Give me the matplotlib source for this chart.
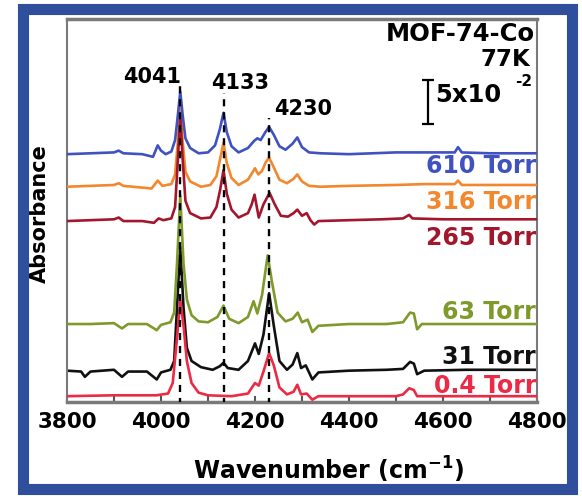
import matplotlib
matplotlib.use("Agg")
import matplotlib.pyplot as plt
from matplotlib.patches import Rectangle

# ---------------- data (wavenumber cm^-1, absorbance) ----------------
wn_610 = [3800, 3850, 3900, 3910, 3920, 3960, 3983, 3993, 4000, 4010, 4022, 4030, 4036, 4041, 4046, 4052,
          4062, 4080, 4100, 4115, 4125, 4133, 4140, 4150, 4165, 4185, 4198, 4205, 4212, 4222, 4230, 4240,
          4252, 4265, 4280, 4290, 4300, 4315, 4340, 4400, 4450, 4500, 4560, 4625, 4632, 4640, 4700, 4800]
ab_610 = [0.285, 0.286, 0.287, 0.289, 0.286, 0.285, 0.282, 0.295, 0.289, 0.285, 0.288, 0.301, 0.330, 0.356, 0.330, 0.303,
          0.292, 0.286, 0.287, 0.295, 0.313, 0.332, 0.310, 0.294, 0.287, 0.292, 0.300, 0.303, 0.301, 0.310, 0.316, 0.307,
          0.294, 0.290, 0.297, 0.304, 0.293, 0.287, 0.286, 0.285, 0.286, 0.287, 0.287, 0.287, 0.293, 0.287, 0.286, 0.286]

wn_316 = [3800, 3850, 3900, 3910, 3920, 3980, 3993, 4003, 4022, 4030, 4036, 4041, 4046, 4052, 4062, 4085,
          4105, 4118, 4126, 4133, 4140, 4150, 4165, 4185, 4200, 4207, 4215, 4223, 4230, 4240, 4252, 4268,
          4282, 4290, 4300, 4315, 4340, 4400, 4500, 4560, 4625, 4632, 4640, 4700, 4800]
ab_316 = [0.248, 0.249, 0.250, 0.252, 0.249, 0.246, 0.255, 0.249, 0.251, 0.262, 0.300, 0.345, 0.300, 0.265, 0.254, 0.248,
          0.250, 0.260, 0.280, 0.298, 0.275, 0.258, 0.250, 0.256, 0.269, 0.262, 0.266, 0.276, 0.281, 0.270, 0.256, 0.252,
          0.257, 0.262, 0.254, 0.249, 0.248, 0.249, 0.250, 0.251, 0.251, 0.255, 0.250, 0.250, 0.250]

wn_265 = [3800, 3850, 3900, 3910, 3920, 3960, 3985, 3995, 4005, 4022, 4030, 4036, 4041, 4046, 4052, 4062,
          4085, 4105, 4118, 4126, 4133, 4140, 4150, 4165, 4185, 4193, 4199, 4208, 4218, 4231, 4242, 4255,
          4270, 4282, 4290, 4300, 4310, 4318, 4326, 4335, 4400, 4470, 4515, 4528, 4535, 4600, 4700, 4800]
ab_265 = [0.209, 0.210, 0.211, 0.213, 0.209, 0.209, 0.207, 0.212, 0.210, 0.212, 0.225, 0.280, 0.329, 0.280, 0.232, 0.218,
          0.212, 0.213, 0.225, 0.245, 0.267, 0.240, 0.222, 0.213, 0.218, 0.228, 0.239, 0.213, 0.228, 0.241, 0.228, 0.215,
          0.214, 0.218, 0.222, 0.215, 0.218, 0.210, 0.205, 0.209, 0.210, 0.211, 0.212, 0.216, 0.212, 0.211, 0.211, 0.211]

wn_63 = [3800, 3850, 3900, 3917, 3930, 3970, 3991, 4000, 4020, 4028, 4034, 4041, 4048, 4055, 4065, 4080,
         4100, 4120, 4133, 4145, 4165, 4185, 4197, 4205, 4215, 4227, 4236, 4248, 4265, 4280, 4291, 4300,
         4312, 4322, 4335, 4400, 4480, 4515, 4530, 4538, 4545, 4555, 4650, 4800]
ab_63 = [0.092, 0.092, 0.093, 0.087, 0.092, 0.092, 0.085, 0.091, 0.094, 0.105, 0.160, 0.238, 0.160, 0.120, 0.102, 0.095,
         0.094, 0.100, 0.113, 0.098, 0.093, 0.100, 0.118, 0.104, 0.125, 0.170, 0.140, 0.105, 0.095, 0.098, 0.105, 0.094,
         0.097, 0.083, 0.090, 0.092, 0.092, 0.094, 0.105, 0.104, 0.086, 0.092, 0.092, 0.092]

wn_31 = [3800, 3830, 3838, 3850, 3900, 3917, 3930, 3970, 3991, 4000, 4020, 4028, 4034, 4041, 4048, 4055,
         4065, 4085, 4110, 4125, 4133, 4142, 4165, 4185, 4200, 4208, 4218, 4230, 4240, 4252, 4268, 4280,
         4290, 4298, 4308, 4322, 4335, 4400, 4480, 4515, 4530, 4538, 4545, 4560, 4650, 4800]
ab_31 = [0.039, 0.038, 0.032, 0.038, 0.040, 0.032, 0.038, 0.038, 0.029, 0.037, 0.040, 0.050, 0.110, 0.180, 0.110, 0.065,
         0.050, 0.043, 0.040, 0.044, 0.048, 0.042, 0.040, 0.050, 0.070, 0.058, 0.080, 0.127, 0.090, 0.050, 0.040, 0.046,
         0.059, 0.042, 0.045, 0.029, 0.037, 0.039, 0.040, 0.041, 0.049, 0.047, 0.035, 0.039, 0.040, 0.040]

wn_04 = [3800, 3900, 3990, 4015, 4025, 4033, 4041, 4048, 4055, 4065, 4080, 4100, 4150, 4185, 4200, 4208,
         4218, 4230, 4240, 4252, 4268, 4282, 4290, 4298, 4310, 4322, 4335, 4400, 4500, 4515, 4528, 4538,
         4545, 4600, 4800]
ab_04 = [0.010, 0.011, 0.011, 0.013, 0.025, 0.070, 0.119, 0.090, 0.050, 0.025, 0.014, 0.011, 0.010, 0.013, 0.025, 0.022,
         0.038, 0.059, 0.045, 0.020, 0.012, 0.015, 0.023, 0.012, 0.013, 0.006, 0.010, 0.010, 0.010, 0.012, 0.019, 0.017,
         0.010, 0.010, 0.010]

series_labels = ["610 Torr", "316 Torr", "265 Torr", "63 Torr", "31 Torr", "0.4 Torr"]
peak_positions = [4041, 4133, 4230]
peak_labels = ["4041", "4133", "4230"]
x_ticks = [3800, 4000, 4200, 4400, 4600, 4800]
x_minor = [3900, 4100, 4300, 4500, 4700]
scale_bar = 0.05

# ---------------- figure ----------------
W, H = 582, 498
fig = plt.figure(figsize=(W / 100, H / 100), dpi=100)
fig.patch.set_facecolor("white")

# blue frame
fig.patches.append(Rectangle((22.5 / W, 9.5 / H), 549 / W, 479 / H, transform=fig.transFigure,
                             fill=False, edgecolor="#2f4f9c", linewidth=8.0, zorder=0))

ax = fig.add_axes([67 / W, (498 - 402) / H, 470 / W, 383 / H])

FONT = "DejaVu Sans"
colors = ["#4052c0", "#f3872e", "#a3172d", "#7d9a2b", "#111111", "#ec2a45"]
data = [(wn_610, ab_610), (wn_316, ab_316), (wn_265, ab_265), (wn_63, ab_63), (wn_31, ab_31), (wn_04, ab_04)]
zorders = [6, 4, 5, 3, 2, 4.5]
for (x, y), c, z in zip(data, colors, zorders):
    ax.plot(x, y, color=c, lw=1.9, zorder=z, solid_joinstyle="round")

# dashed guide lines
tops = [0.3636, 0.3545, 0.326]
for p, t in zip(peak_positions, tops):
    ax.plot([p, p], [0.0, t], color="black", lw=1.7, ls=(0, (3, 2.5)), zorder=7)

# peak labels
lab_pos = [(3981, 0.3727), (4168, 0.366), (4302, 0.3364)]
for (lx, ly), t in zip(lab_pos, peak_labels):
    ax.text(lx, ly, t, ha="center", va="center", fontsize=15, fontweight="bold", family=FONT, zorder=8)

# series labels
lab_y = [0.616, 0.522, 0.428, 0.235, 0.1175, 0.0418]
for t, c, yy in zip(series_labels, colors, lab_y):
    ax.text(0.998, yy, t, transform=ax.transAxes, ha="right", va="center", color=c,
            fontsize=17, fontweight="bold", family=FONT, zorder=8)

# title texts
ax.text(0.9957, 0.961, "MOF-74-Co", transform=ax.transAxes, ha="right", va="center",
        fontsize=17.5, fontweight="bold", family=FONT)
ax.text(0.985, 0.893, "77K", transform=ax.transAxes, ha="right", va="center",
        fontsize=16.5, fontweight="bold", family=FONT)

# scale bar
sb_x = 4568
sb_y0 = 0.3193
ax.errorbar([sb_x], [sb_y0 + scale_bar / 2], yerr=[scale_bar / 2], color="black", lw=1.6,
            capsize=4.5, capthick=1.6, zorder=8)
ax.text(0.783, 0.8016, "5x10", transform=ax.transAxes, ha="left", va="center",
        fontsize=17.5, fontweight="bold", family=FONT)
ax.text(0.953, 0.838, "-2", transform=ax.transAxes, ha="left", va="center",
        fontsize=11, fontweight="bold", family=FONT)

# axes formatting
ax.set_xlim(3800, 4800)
ax.set_ylim(0.0034, 0.4386)
ax.set_xticks(x_ticks)
ax.set_xticks(x_minor, minor=True)
ax.set_xticklabels([str(v) for v in x_ticks], fontsize=15.5, fontweight="bold", family=FONT)
ax.set_yticks([])
ax.tick_params(axis="x", which="both", direction="in", length=4, width=1.5, color="#555555",
               pad=7, top=False)
for side, lw in [("left", 1.5), ("right", 1.5), ("top", 2.5), ("bottom", 2.5)]:
    ax.spines[side].set_color("#7a7a7a")
    ax.spines[side].set_linewidth(lw)

plt.rcParams["mathtext.default"] = "bf"
ax.set_xlabel("Wavenumber (cm$^{\\mathbf{-1}}$)", fontsize=17, fontweight="bold", family=FONT)
ax.xaxis.set_label_coords(0.557, -0.1775)
ax.xaxis.label.set_va("center")
ax.set_ylabel("Absorbance", fontsize=15, fontweight="bold", family=FONT)
ax.yaxis.set_label_coords(-0.0574, 0.493)
ax.yaxis.label.set_va("center")

fig.savefig("out.png", dpi=100, facecolor="white")
